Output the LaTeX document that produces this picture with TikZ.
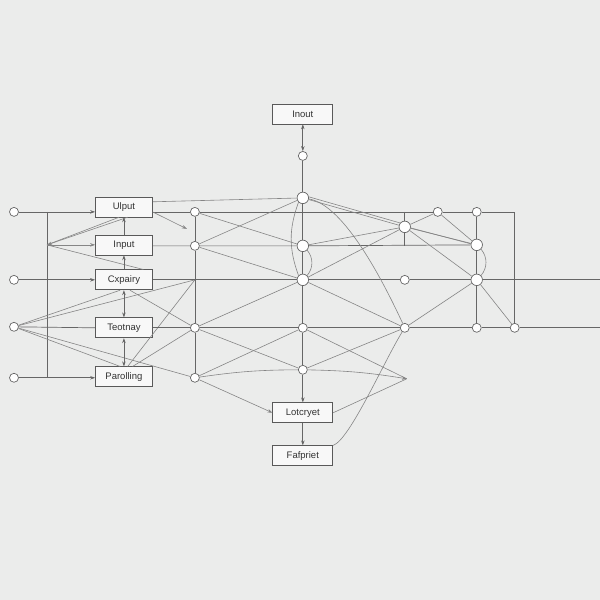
\documentclass[tikz,border=0pt]{standalone}
\usepackage{fontspec}
\setmainfont{Liberation Sans}
\usetikzlibrary{arrows.meta}
\definecolor{paper}{RGB}{235,236,235}

\begin{document}
\begin{tikzpicture}[x=1pt,y=-1pt,
		box/.style={draw=black!65,fill=white!65!paper,line width=0.7pt,minimum width=57pt,minimum height=20pt,inner sep=1pt,font=\fontsize{9.5}{11}\selectfont,text=black!80},
		dot/.style={circle,draw=black!60,fill=white,line width=0.7pt,minimum size=9pt,inner sep=0pt},
		bigdot/.style={dot,minimum size=11.5pt},
		wire/.style={draw=black!60,line width=0.7pt},
		faint/.style={draw=black!48,line width=0.6pt},
		tip/.style={-{Stealth[length=5pt,width=3.5pt]}},
		tips/.style={{Stealth[length=5pt,width=3.5pt]}-{Stealth[length=5pt,width=3.5pt]}}]
		%%%%% START %%%%%
		
		\fill[paper] (0,0) rectangle (600,600);
		
		% boxes
		\node[box,minimum width=60pt] (inbox) at (303,114) {Inout};
		\node[box] (ulput) at (124,207) {Ulput};
		\node[box] (input) at (124,245) {Input};
		\node[box] (cxp) at (124,280) {Cxpairy};
		\node[box] (teo) at (124,328) {Teotnay};
		\node[box] (par) at (124,377) {Parolling};
		\node[box,minimum width=60pt] (lot) at (303,413) {Lotcryet};
		\node[box,minimum width=60pt] (faf) at (303,456) {Fafpriet};
		
		% circles
		\node[dot] (l1) at (14,212) {};
		\node[dot] (l2) at (14,280) {};
		\node[dot] (l3) at (14,327) {};
		\node[dot] (l4) at (14,378) {};
		\node[dot] (a1) at (195,212) {};
		\node[dot] (a2) at (195,246) {};
		\node[dot] (a3) at (195,328) {};
		\node[dot] (a4) at (195,378) {};
		\node[dot] (m0) at (303,156) {};
		\node[bigdot] (m1) at (303,198) {};
		\node[bigdot] (m2) at (303,246) {};
		\node[bigdot] (m3) at (303,280) {};
		\node[dot] (m4) at (303,328) {};
		\node[dot] (m5) at (303,370) {};
		\node[bigdot] (r1) at (405,227) {};
		\node[dot] (r2) at (438,212) {};
		\node[dot] (r3) at (477,212) {};
		\node[bigdot] (r4) at (477,245) {};
		\node[bigdot] (r5) at (477,280) {};
		\node[dot] (r6) at (405,280) {};
		\node[dot] (r7) at (405,328) {};
		\node[dot] (r8) at (477,328) {};
		\node[dot] (r9) at (515,328) {};
		
		\coordinate (t1) at (47,245);
		\coordinate (t2) at (187,229);
		\coordinate (t3) at (407,379);
		\coordinate (j1) at (195,280);
		\coordinate (e1) at (600,280);
		\coordinate (e2) at (600,328);
		
		% left inputs
		\draw[wire,tip] (l1) -- (l1 -| ulput.west);
		\draw[wire,tip] (l2) -- (cxp.west);
		\draw[wire] (l3) -- (teo.west);
		\draw[wire,tip] (l4) -- (l4 -| par.west);
		\draw[wire] (47,212) -- (47,378);
		\draw[faint,tip] (ulput.290) -- (t1);
		\draw[faint] (ulput.245) -- (t1);
		\draw[faint,tip] (t1) -- (input.west);
		\draw[faint] (t1) -- (cxp.28);
		\draw[faint] (l3) -- (cxp.250);
		\draw[faint] (l3) -- (j1);
		\draw[faint] (l3) -- (par.110);
		\draw[faint] (l3) -- (a4);
		\draw[faint] (cxp.300) -- (a3);
		\draw[faint] (par.70) -- (j1);
		\draw[faint] (par.50) -- (a3);
		
		% box chain
		\draw[wire,tip] (input) -- (ulput);
		\draw[wire,tip] (cxp) -- (input);
		\draw[wire,tips] (cxp) -- (teo);
		\draw[wire,tips] (teo) -- (par);
		
		% grid
		\draw[wire] (ulput.east |- a1) -- (a1) -- (r2) -- (r3) -- (r3 -| r9) -- (r9);
		\draw[wire] (input.east |- a2) -- (a2) -- (m2) -- (r4);
		\draw[wire] (r1 |- a1) -- (r1) -- (r1 |- a2);
		\draw[wire] (cxp.east) -- (m3) -- (r6) -- (r5) -- (e1);
		\draw[wire] (teo.east) -- (a3) -- (m4) -- (r7) -- (r8) -- (r9) -- (e2);
		\draw[wire] (a1) -- (a2) -- (a3) -- (a4);
		\draw[wire] (r3) -- (r4) -- (r5) -- (r8);
		\draw[wire,tips] (inbox) -- (m0);
		\draw[wire] (m0) -- (m1) -- (m2) -- (m3) -- (m4) -- (m5);
		\draw[wire,tip] (m5) -- (lot);
		\draw[wire,tip] (lot) -- (faf);
		\draw[faint] (m1.south west) to[bend right=20] (m3.north west);
		\draw[faint] (m2.south east) to[bend left=40] (m3.north east);
		\draw[faint] (r4.south east) to[bend left=40] (r5.north east);
		
		% middle diagonals
		\draw[faint] (ulput.10) -- (m1);
		\draw[faint,tip] (ulput.-10) -- (t2);
		\draw[faint] (a1) -- (m2);
		\draw[faint] (a2) -- (m1);
		\draw[faint] (a2) -- (m3);
		\draw[faint] (a3) -- (m3);
		\draw[faint] (a3) -- (m5);
		\draw[faint] (a4) -- (m4);
		\draw[faint] (a4) to[bend left=4] (m5);
		\draw[faint,tip] (m5) to[bend left=4] (t3);
		\draw[faint,tip] (a4) -- (lot.west);
		\draw[faint] (lot.east) -- (t3);
		\draw[faint] (m4) -- (t3);
		
		% right diagonals
		\draw[faint] (m1) -- (r1);
		\draw[faint] (m1.10) -- (r1.140);
		\draw[faint] (m2) -- (r1);
		\draw[faint] (m3) -- (r1);
		\draw[faint] (m3) -- (r7);
		\draw[faint] (m5) -- (r7);
		\draw[faint] (r1) -- (r2);
		\draw[faint] (r1) -- (r4);
		\draw[faint] (r1.-10) -- (r4.170);
		\draw[faint] (r1) -- (r5);
		\draw[faint] (r2) -- (r4);
		\draw[faint] (r7) -- (r5);
		\draw[faint] (r5) -- (r9);
		\draw[faint] (m1) .. controls (345,205) and (385,285) .. (r7);
		\draw[faint] (faf.north east) .. controls (350,440) and (385,360) .. (r7);
		
		%%%%% END %%%%%
	\end{tikzpicture}
\end{document}
